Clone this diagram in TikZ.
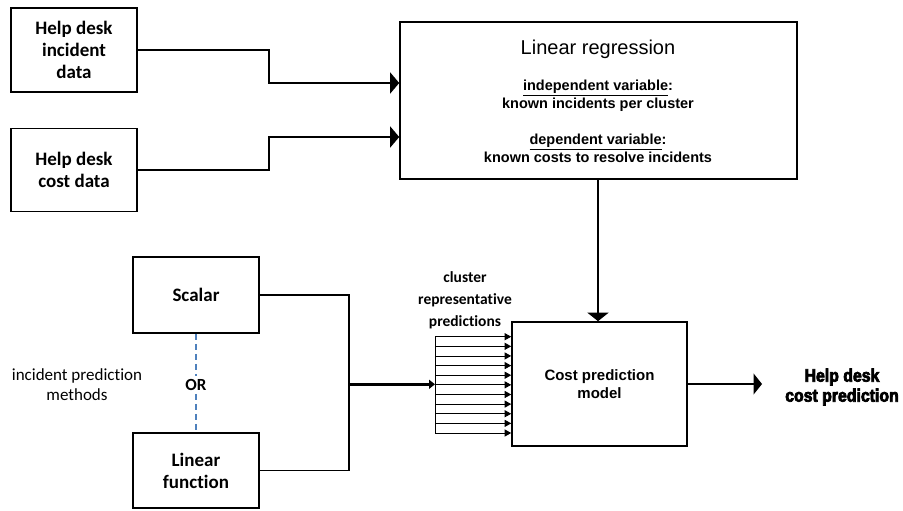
\documentclass[tikz,border=0pt]{standalone}
\usepackage{fontspec}
\setmainfont{Carlito}[Ligatures=NoCommon]
\newfontfamily\arialfont{Liberation Sans}
\newfontfamily\heavyfont{Liberation Sans}[UprightFont={* Bold}, FakeBold=4, FakeStretch=0.88]
\usetikzlibrary{arrows.meta}
\definecolor{orblue}{RGB}{79,129,189}
\begin{document}
\begin{tikzpicture}[x=1pt, y=-1pt, line join=miter]
	\tikzset{
		databox/.style={draw, line width=1.6pt, minimum width=126pt, align=center, inner sep=2pt, font=\fontsize{19}{22}\selectfont\bfseries},
		regbox/.style={draw, line width=1.6pt, minimum width=397pt, minimum height=157pt},
		modelbox/.style={draw, line width=1.6pt, minimum width=175pt, minimum height=124pt, align=center, font=\arialfont\fontsize{15}{18}\selectfont\bfseries},
		regtext/.style={align=center, inner sep=0pt, font=\arialfont\fontsize{14.5}{18}\selectfont\bfseries},
		note/.style={align=center, inner sep=0pt, font=\fontsize{17}{20}\selectfont},
		link/.style={line width=1.4pt},
		flow/.style={line width=1.4pt, -{Triangle[length=9pt, width=21pt]}},
		bigflow/.style={line width=2.4pt, -{Triangle[length=6pt, width=9pt]}},
		combflow/.style={line width=0.9pt, -{Triangle[length=6.5pt, width=7pt]}}
	}
	\useasboundingbox (0,0) rectangle (903,511);
	% inputs of the regression
	\node[databox, minimum height=84pt] (incdata) at (74,50) {Help desk\\incident\\data};
	\node[databox, minimum height=83pt] (costdata) at (74,170) {Help desk\\cost data};
	\node[regbox] (linreg) at (598.5,100.5) {};
	\node[font=\arialfont\fontsize{20}{24}\selectfont] (lrtitle) at (598,49) {Linear regression};
	\node[regtext] (lrindep) at (598,96) {\underline{independent variable}:\\known incidents per cluster};
	\node[regtext] (lrdep) at (598,148.5) {\underline{dependent variable}:\\known costs to resolve incidents};
	\draw[flow] (incdata.east) -- ++(131,0) |- ([yshift=17.5pt]linreg.west);
	\draw[flow] (costdata.east) -- ++(131,0) |- ([yshift=-36.5pt]linreg.west);
	% prediction methods
	\node[databox, minimum height=76pt] (scalar) at (196,295) {Scalar};
	\node[databox, minimum height=75pt] (linfunc) at (196,470.5) {Linear\\function};
	\node[note] (methods) at (77,385) {incident prediction\\methods};
	\node[note, font=\fontsize{17}{20}\selectfont\bfseries, fill=white, inner sep=3pt] (orlabel) at (196,385) {OR};
	\draw[orblue, line width=1.2pt, dash pattern=on 6pt off 4pt] (scalar.south) -- (orlabel.north);
	\draw[orblue, line width=1.2pt, dash pattern=on 6pt off 4pt] (orlabel.south) -- (linfunc.north);
	\draw[link] (scalar.east) -- ++(89,0) |- (linfunc.east);
	% cost model
	\node[modelbox] (costmodel) at (599.5,384) {Cost prediction\\model};
	\node[note, font=\fontsize{15.5}{22}\selectfont\bfseries] (clusterlbl) at (465,300) {cluster\\representative\\predictions};
	\coordinate (junc) at (348,384.3);
	\coordinate (combtop) at (435,336.7);
	\coordinate (combbot) at (435,433);
	\draw[line width=0.9pt] (combtop) -- (combbot);
	\draw[bigflow] (junc) -- (junc -| combtop);
	\foreach \i in {0,...,10}
		\draw[combflow] (435,336.7+9.63*\i) -- (costmodel.west |- 0,336.7+9.63*\i);
	\draw[flow, -{Triangle[length=8.5pt, width=21pt]}] (linreg.south -| 598,0) -- (598,0 |- costmodel.north);
	% output
	\node[font=\heavyfont\fontsize{18}{20}\selectfont, align=center, inner sep=0pt] (outlbl) at (842,387) {Help desk\\cost prediction};
	\coordinate (outend) at (762,384);
	\draw[flow, -{Triangle[length=8.5pt, width=21pt]}] (costmodel.east) -- (outend);
\end{tikzpicture}
\end{document}
